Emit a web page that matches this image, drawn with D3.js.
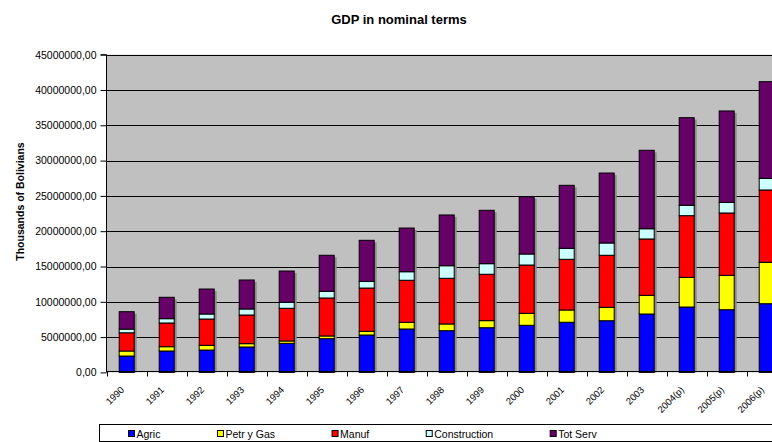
<!DOCTYPE html>
<html>
<head>
<meta charset="utf-8">
<script src="https://cdn.jsdelivr.net/npm/d3@7"></script>
<style>
  html, body { margin: 0; padding: 0; background: #ffffff; }
  svg { display: block; font-family: "Liberation Sans", Arial, sans-serif; }
</style>
</head>
<body>
<svg id="chart" width="772" height="442"></svg>
<script>
const years = ["1990","1991","1992","1993","1994","1995","1996","1997","1998","1999","2000","2001","2002","2003","2004(p)","2005(p)","2006(p)"];
const agric        = [2320000,3030000,3170000,3600000,4120000,4780000,5300000,6150000,5910000,6330000,6670000,7100000,7320000,8270000,9260000,8880000,9730000];
const petrGas      = [710000,610000,670000,470000,330000,380000,520000,950000,950000,1000000,1700000,1740000,1900000,2650000,4210000,4870000,5870000];
const manuf        = [2580000,3360000,3720000,4060000,4630000,5380000,6130000,5950000,6470000,6570000,6840000,7180000,7370000,7980000,8730000,8830000,10240000];
const construction = [520000,610000,710000,850000,850000,950000,950000,1210000,1780000,1500000,1560000,1560000,1740000,1450000,1470000,1510000,1650000];
const totServ      = [2470000,3030000,3540000,4110000,4430000,5100000,5810000,6190000,7190000,7560000,8120000,8920000,9910000,11110000,12410000,12940000,13690000];
const seriesNames  = ["Agric","Petr y Gas","Manuf","Construction","Tot Serv"];
const seriesColors = ["#0000FF","#FFFF00","#FF0000","#CCFFFF","#660066"];
const yTicks       = [0,5000000,10000000,15000000,20000000,25000000,30000000,35000000,40000000,45000000];

const seriesValues = [agric, petrGas, manuf, construction, totServ];
const rows = years.map((y, i) => {
  const r = { year: y };
  seriesNames.forEach((n, k) => r[n] = seriesValues[k][i]);
  return r;
});

const FONT = "'Liberation Sans', Arial, sans-serif";
const svg = d3.select("#chart");
const plot = { left: 106.7, right: 786.7, top: 54.7, bottom: 372.4 };

const x = d3.scaleBand().domain(years).range([plot.left, plot.right]).paddingInner(0.6).paddingOuter(0.3);
const y = d3.scaleLinear().domain([0, 45000000]).range([plot.bottom, plot.top]);
const color = d3.scaleOrdinal().domain(seriesNames).range(seriesColors);

// plot background
svg.append("rect")
  .attr("x", plot.left).attr("y", plot.top)
  .attr("width", plot.right - plot.left).attr("height", plot.bottom - plot.top)
  .attr("fill", "#C0C0C0");

// gridlines
svg.append("g").selectAll("line").data(yTicks.slice(1)).join("line")
  .attr("x1", plot.left).attr("x2", plot.right)
  .attr("y1", d => Math.round(y(d)) + 0.5).attr("y2", d => Math.round(y(d)) + 0.5)
  .attr("stroke", "#000").attr("stroke-width", 1);

// stacked bars
const stack = d3.stack().keys(seriesNames)(rows);

// shadows
svg.append("g").selectAll("rect").data(rows).join("rect")
  .attr("x", d => x(d.year) + 2)
  .attr("y", d => y(d3.sum(seriesNames, n => d[n])) + 2)
  .attr("width", x.bandwidth())
  .attr("height", d => plot.bottom - y(d3.sum(seriesNames, n => d[n])) - 2)
  .attr("fill", "#8c8c8c");

svg.append("g").selectAll("g").data(stack).join("g")
  .attr("fill", d => color(d.key))
  .selectAll("rect").data(d => d).join("rect")
  .attr("x", d => x(d.data.year) + 0.5)
  .attr("y", d => y(d[1]))
  .attr("width", x.bandwidth() - 1)
  .attr("height", d => y(d[0]) - y(d[1]))
  .attr("stroke", "#000").attr("stroke-width", 1);

// y axis
const yAxis = d3.axisLeft(y).tickValues(yTicks).tickSize(6).tickPadding(4)
  .tickFormat(d => d.toFixed(2).replace(".", ","));
const gy = svg.append("g").attr("transform", `translate(${Math.round(plot.left) - 0.5},0)`).call(yAxis);
gy.select(".domain").attr("stroke", "#000").attr("d", `M-6,${y(45000000)}H0V${plot.bottom}`);
gy.selectAll(".tick line").attr("stroke", "#000");
gy.selectAll(".tick text").attr("font-size", "10.5px").attr("fill", "#000")
  .attr("font-family", FONT);

// x axis
const xAxis = d3.axisBottom(x).tickSize(0).tickFormat("");
const gx = svg.append("g").attr("transform", `translate(0,${Math.round(plot.bottom) - 0.5})`).call(xAxis);
gx.select(".domain").attr("stroke", "#000").attr("d", `M${plot.left},0H${plot.right}`);
gx.selectAll(".tick").remove();
gx.selectAll("line.bt").data(years).join("line").attr("class", "bt")
  .attr("x1", d => Math.round(x(d) - x.step() * 0.3) + 0.5)
  .attr("x2", d => Math.round(x(d) - x.step() * 0.3) + 0.5)
  .attr("y1", 0).attr("y2", 5).attr("stroke", "#000");

// x labels
svg.append("g").selectAll("text").data(years).join("text")
  .attr("transform", d => `translate(${x(d) + x.bandwidth() / 2 - 2},${plot.bottom + 18}) rotate(-45)`)
  .attr("text-anchor", "end")
  .attr("font-family", FONT)
  .attr("font-size", "9.5px").attr("fill", "#000")
  .text(d => d);

// title
svg.append("text")
  .attr("x", 399).attr("y", 24)
  .attr("text-anchor", "middle")
  .attr("font-family", FONT)
  .attr("font-size", "13px").attr("font-weight", "bold").attr("fill", "#000")
  .text("GDP in nominal terms");

// y title
svg.append("text")
  .attr("transform", `translate(24,${(plot.top + plot.bottom) / 2 - 12}) rotate(-90)`)
  .attr("text-anchor", "middle")
  .attr("font-family", FONT)
  .attr("font-size", "10.5px").attr("font-weight", "bold").attr("fill", "#000")
  .text("Thousands of Bolivians");

// legend
const legend = svg.append("g");
legend.append("rect")
  .attr("x", 99.5).attr("y", 424.5).attr("width", 720).attr("height", 17)
  .attr("fill", "#fff").attr("stroke", "#000").attr("stroke-width", 1);
let lx = 128.5;
seriesNames.forEach((n, i) => {
  const g = legend.append("g");
  g.append("rect").attr("x", lx).attr("y", 430.5).attr("width", 6).attr("height", 6)
    .attr("fill", color(n)).attr("stroke", "#000").attr("stroke-width", 1);
  const t = g.append("text").attr("x", lx + 8).attr("y", 438)
    .attr("font-family", FONT)
    .attr("font-size", "10.5px").attr("fill", "#000").text(n);
  const w = t.node().getComputedTextLength();
  lx += 7 + w + 58;
});
</script>
</body>
</html>
